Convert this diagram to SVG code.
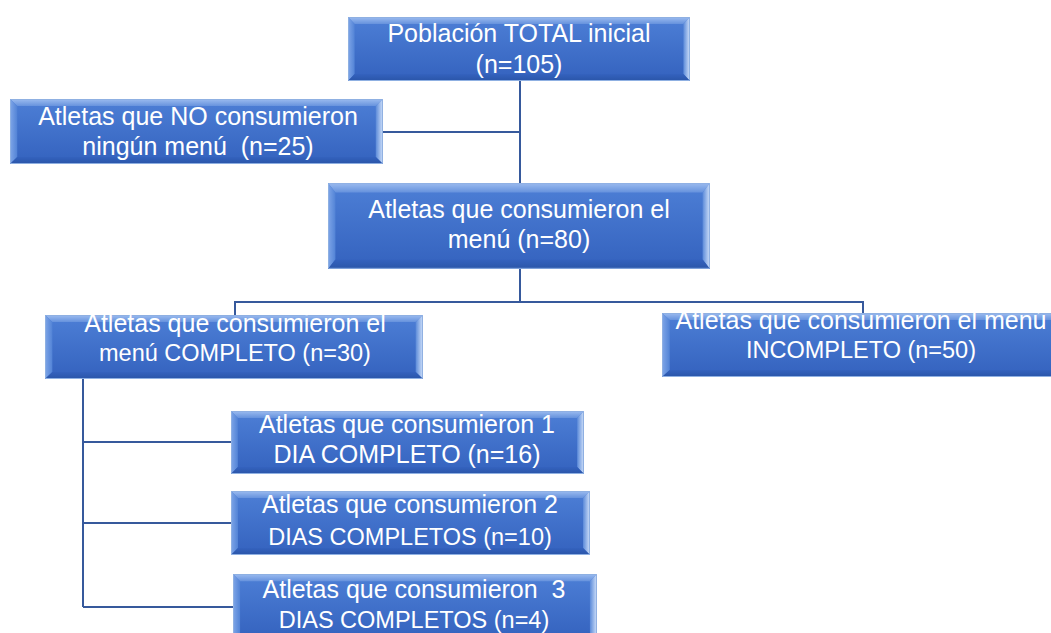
<svg xmlns="http://www.w3.org/2000/svg" xmlns:xlink="http://www.w3.org/1999/xlink" width="1051" height="633" viewBox="0 0 1051 633">
<style>
  .lbl { font-family: "Liberation Sans", Arial, sans-serif; font-size: 25px; fill: #ffffff; text-anchor: middle; }
  .caps { font-size: 23.5px; }
  .conn { stroke: #36599c; stroke-width: 2; fill: none; }
</style>
<defs>
  <linearGradient id="gFill" x1="0" y1="0" x2="0" y2="1">
    <stop offset="0" stop-color="#4d7fd6"/>
    <stop offset="1" stop-color="#3462be"/>
  </linearGradient>
  <linearGradient id="gTop" x1="0" y1="0" x2="0" y2="1">
    <stop offset="0" stop-color="#9cbcf0"/>
    <stop offset="1" stop-color="#6692dd"/>
  </linearGradient>
  <linearGradient id="gLeft" x1="0" y1="0" x2="1" y2="0">
    <stop offset="0" stop-color="#7fa6e8"/>
    <stop offset="1" stop-color="#5283d6"/>
  </linearGradient>
  <linearGradient id="gRight" x1="1" y1="0" x2="0" y2="0">
    <stop offset="0" stop-color="#d2e2fa"/>
    <stop offset="1" stop-color="#5b8ad9"/>
  </linearGradient>
  <linearGradient id="gBottom" x1="0" y1="1" x2="0" y2="0">
    <stop offset="0" stop-color="#2a55a8"/>
    <stop offset="1" stop-color="#3462be"/>
  </linearGradient>
  <symbol id="bevelBox" viewBox="0 0 360 64" preserveAspectRatio="none">
    <rect x="0" y="0" width="360" height="64" fill="url(#gFill)"/>
    <polygon points="0,0 360,0 353,7 7,7" fill="url(#gTop)"/>
    <polygon points="0,0 7,7 7,57 0,64" fill="url(#gLeft)"/>
    <polygon points="360,0 360,64 353,57 353,7" fill="url(#gRight)"/>
    <polygon points="0,64 7,57 353,57 360,64" fill="url(#gBottom)"/>
    <rect x="0.5" y="0.5" width="359" height="63" fill="none" stroke="#8fb0e2" stroke-width="1" vector-effect="non-scaling-stroke"/>
  </symbol>
</defs>
<rect width="1051" height="633" fill="#ffffff"/>
<g id="connectors">
  <path class="conn" d="M520,81 V183"/>
  <path class="conn" d="M383,132 H520"/>
  <path class="conn" d="M520,269 V302"/>
  <path class="conn" d="M235,315 V302 H863 V313"/>
  <path class="conn" d="M83,379 V607"/>
  <path class="conn" d="M83,442 H231"/>
  <path class="conn" d="M83,523 H231"/>
  <path class="conn" d="M83,607 H233"/>
</g>
<g id="node-total">
  <use xlink:href="#bevelBox" href="#bevelBox" x="348" y="17" width="342" height="64"/>
  <text class="lbl" x="519" y="42">Población TOTAL inicial</text>
  <text class="lbl" x="519" y="73">(n=105)</text>
</g>
<g id="node-no">
  <use xlink:href="#bevelBox" href="#bevelBox" x="10" y="99" width="373" height="65"/>
  <text class="lbl" x="198" y="125">Atletas que NO consumieron</text>
  <text class="lbl" x="198" y="155" xml:space="preserve">ningún menú  (n=25)</text>
</g>
<g id="node-menu">
  <use xlink:href="#bevelBox" href="#bevelBox" x="328" y="183" width="382" height="86"/>
  <text class="lbl" x="519" y="218">Atletas que consumieron el</text>
  <text class="lbl" x="519" y="248">menú (n=80)</text>
</g>
<g id="node-completo">
  <use xlink:href="#bevelBox" href="#bevelBox" x="45" y="315" width="378" height="64"/>
  <text class="lbl" x="235" y="332">Atletas que consumieron el</text>
  <text class="lbl caps" x="235" y="361">menú COMPLETO (n=30)</text>
</g>
<g id="node-incompleto">
  <use xlink:href="#bevelBox" href="#bevelBox" x="662" y="313" width="400" height="64"/>
  <text class="lbl" x="861" y="329">Atletas que consumieron el menú</text>
  <text class="lbl caps" x="861" y="358">INCOMPLETO (n=50)</text>
</g>
<g id="node-1dia">
  <use xlink:href="#bevelBox" href="#bevelBox" x="231" y="411" width="353" height="63"/>
  <text class="lbl" x="407" y="433">Atletas que consumieron 1</text>
  <text class="lbl" x="407" y="463">DIA COMPLETO (n=16)</text>
</g>
<g id="node-2dias">
  <use xlink:href="#bevelBox" href="#bevelBox" x="231" y="491" width="359" height="64"/>
  <text class="lbl" x="410" y="513">Atletas que consumieron 2</text>
  <text class="lbl caps" x="410" y="545">DIAS COMPLETOS (n=10)</text>
</g>
<g id="node-3dias">
  <use xlink:href="#bevelBox" href="#bevelBox" x="233" y="574" width="364" height="66"/>
  <text class="lbl" x="414" y="598" xml:space="preserve">Atletas que consumieron  3</text>
  <text class="lbl caps" x="414" y="628">DIAS COMPLETOS (n=4)</text>
</g>
</svg>
